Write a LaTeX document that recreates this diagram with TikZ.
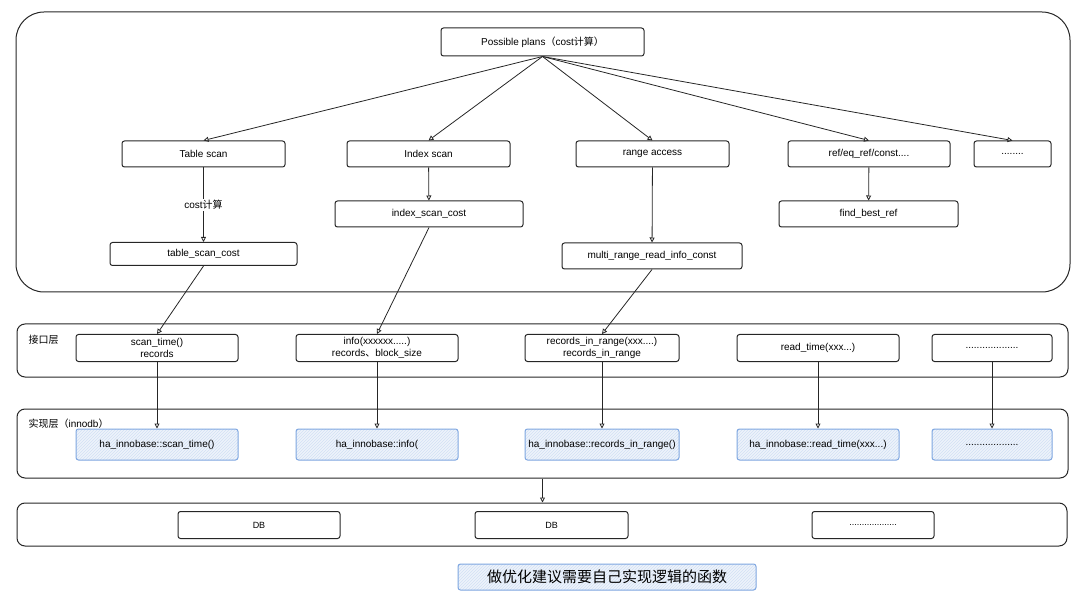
\documentclass[tikz,border=0pt]{standalone}
\usepackage{fontspec}
\setmainfont{Liberation Sans}
\newfontfamily\cjk{Noto Sans CJK SC}
\usetikzlibrary{arrows.meta,patterns}
\definecolor{hatchblue}{HTML}{7EA6E0}
\definecolor{hatchfill}{HTML}{EEF3FB}

\begin{document}
\begin{tikzpicture}[x=1pt, y=-1pt,
  box/.style={draw=black!85, line width=1pt, rounded corners=2.5pt, align=center,
    inner sep=1pt, font=\fontsize{10}{11.5}\selectfont},
  implbox/.style={box, draw=hatchblue, preaction={fill=hatchfill},
    pattern=north east lines, pattern color=hatchblue!35},
  layer/.style={draw=black!85, line width=1pt, rounded corners=8pt},
  arr/.style={draw=black!85, line width=0.8pt, -{Triangle[open, length=5pt, width=5pt]}}]
\useasboundingbox (0,0) rectangle (1080,596);

% layers
\node[layer, rounded corners=28pt, minimum width=1054pt, minimum height=280pt] (planlayer) at (543,152) {};
\node[layer, minimum width=1051pt, minimum height=53pt] (apilayer) at (542.5,350.5) {};
\node[layer, minimum width=1051pt, minimum height=69pt] (impllayer) at (542.5,443.5) {};
\node[layer, minimum width=1050pt, minimum height=43pt] (dblayer) at (542,524.5) {};

% possible plans
\node[box, minimum width=203pt, minimum height=28pt] (plans) at (542.5,42) {Possible plans{\cjk （}cost{\cjk 计算）}};
\node[box, minimum width=163pt, minimum height=26pt] (tscan) at (203.5,154) {Table scan};
\node[box, minimum width=163pt, minimum height=26pt] (iscan) at (428.5,154) {Index scan};
\node[box, minimum width=153pt, minimum height=26pt] (range) at (652.5,154) {range access};
\node[box, minimum width=162pt, minimum height=26pt] (ref) at (869,154) {ref/eq\_ref/const....};
\node[box, minimum width=77pt, minimum height=26pt] (more) at (1012.5,154) {........};
\node[box, minimum width=187pt, minimum height=23pt] (tcost) at (203.5,254) {table\_scan\_cost};
\node[box, minimum width=188pt, minimum height=26pt] (icost) at (429,214) {index\_scan\_cost};
\node[box, minimum width=180pt, minimum height=26pt] (mrr) at (652,256) {multi\_range\_read\_info\_const};
\node[box, minimum width=179pt, minimum height=26pt] (bestref) at (868.5,214) {find\_best\_ref};

\draw[arr] (plans.south) -- (tscan.north);
\draw[arr] (plans.south) -- (iscan.north);
\draw[arr] (plans.south) -- (range.north);
\draw[arr] (plans.south) -- (ref.north);
\draw[arr] (plans.south) -- (more.north);
\draw[arr] (tscan) -- node[fill=white, inner sep=1.5pt, font=\fontsize{10}{11.5}\selectfont] {cost{\cjk 计算}} (tcost);
\draw[arr] (iscan) -- (icost);
\draw[arr] (range) -- (mrr);
\draw[arr] (ref) -- (bestref);

% 接口层
\node[anchor=west, font=\cjk\fontsize{10}{11.5}\selectfont] (apilabel) at (25,340) {接口层};
\node[box, minimum width=162pt, minimum height=27pt] (itime) at (157,348) {scan\_time()\\records};
\node[box, minimum width=162pt, minimum height=27pt] (iinfo) at (377,348) {info(xxxxxx.....)\\records{\cjk 、}block\_size};
\node[box, minimum width=154pt, minimum height=27pt] (irange) at (602,348) {records\_in\_range(xxx....)\\records\_in\_range};
\node[box, minimum width=162pt, minimum height=27pt] (iread) at (818,348) {read\_time(xxx...)};
\node[box, minimum width=120pt, minimum height=27pt] (imore) at (992,348) {...................};

\draw[arr] (tcost.south) -- (itime.north);
\draw[arr] (icost.south) -- (iinfo.north);
\draw[arr] (mrr.south) -- (irange.north);

% 实现层
\node[anchor=west, font=\fontsize{10}{11.5}\selectfont] (impllabel) at (25,424) {{\cjk 实现层（}innodb{\cjk ）}};
\node[implbox, minimum width=162pt, minimum height=31pt] (htime) at (157,444.5) {ha\_innobase::scan\_time()};
\node[implbox, minimum width=162pt, minimum height=31pt] (hinfo) at (377,444.5) {ha\_innobase::info(};
\node[implbox, minimum width=154pt, minimum height=31pt] (hrange) at (602,444.5) {ha\_innobase::records\_in\_range()};
\node[implbox, minimum width=162pt, minimum height=31pt] (hread) at (818,444.5) {ha\_innobase::read\_time(xxx...)};
\node[implbox, minimum width=120pt, minimum height=31pt] (hmore) at (992,444.5) {...................};

\draw[arr] (itime) -- (htime);
\draw[arr] (iinfo) -- (hinfo);
\draw[arr] (irange) -- (hrange);
\draw[arr] (iread) -- (hread);
\draw[arr] (imore) -- (hmore);

% DB
\draw[arr] (impllayer.south -| plans.south) -- (dblayer.north -| plans.south);
\node[box, minimum width=162pt, minimum height=27pt, font=\fontsize{9}{10}\selectfont] (db1) at (259,525) {DB};
\node[box, minimum width=153pt, minimum height=27pt, font=\fontsize{9}{10}\selectfont] (db2) at (551.5,525) {DB};
\node[box, minimum width=122pt, minimum height=27pt, font=\fontsize{9}{10}\selectfont] (dbmore) at (873,525) {...................};

% caption
\node[implbox, minimum width=298pt, minimum height=26pt, font=\cjk\fontsize{15}{17}\selectfont] (caption) at (607,577) {做优化建议需要自己实现逻辑的函数};
\end{tikzpicture}
\end{document}
